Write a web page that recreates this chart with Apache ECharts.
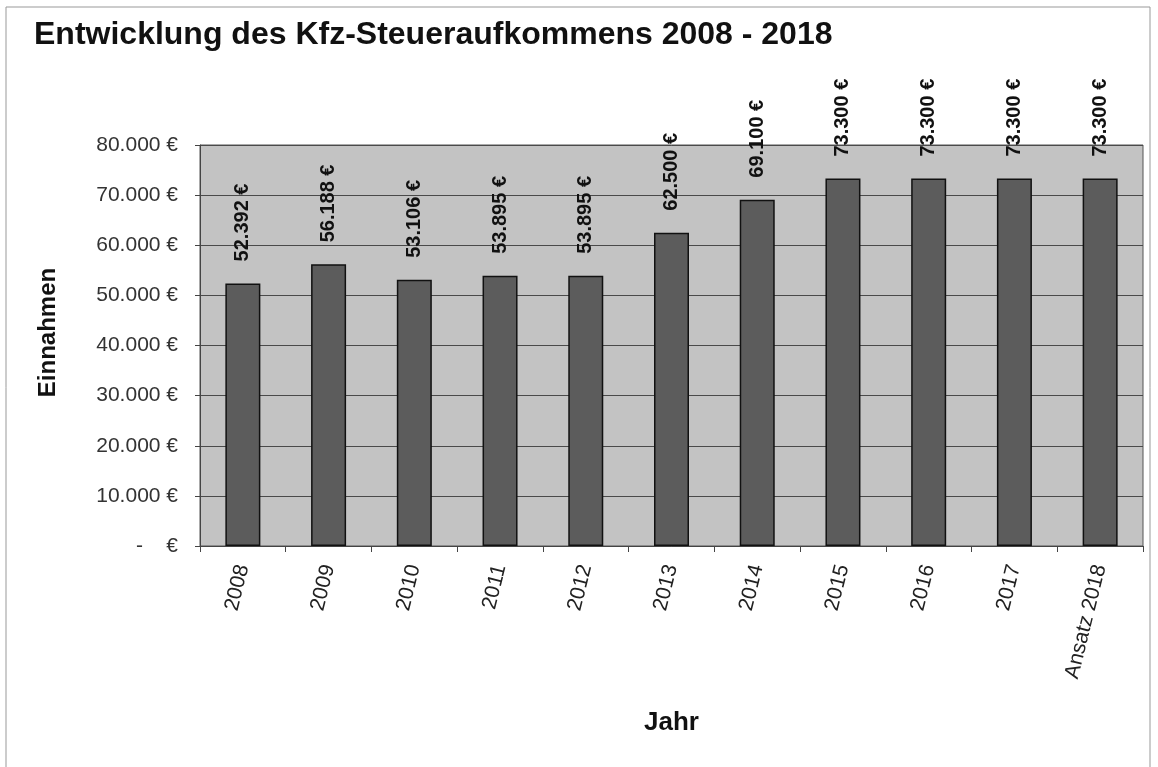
<!DOCTYPE html>
<html>
<head>
<meta charset="utf-8">
<title>Kfz-Steueraufkommen</title>
<script src="https://cdn.jsdelivr.net/npm/echarts@6/dist/echarts.min.js"></script>
<style>
html, body { margin: 0; padding: 0; background: #fff; }
#chart { width: 1158px; height: 767px; }
</style>
</head>
<body>
<div id="chart"></div>
<script>
// Jahre und Einnahmen
var jahre = ['2008', '2009', '2010', '2011', '2012', '2013', '2014', '2015', '2016', '2017', 'Ansatz 2018'];
var einnahmen = [52392, 56188, 53106, 53895, 53895, 62500, 69100, 73300, 73300, 73300, 73300];

function euro(v) {
	if (v === 0) return '-    €';
	return String(v).replace(/\B(?=(\d{3})+(?!\d))/g, '.') + ' €';
}

var chart = echarts.init(document.getElementById('chart'));
chart.setOption({
	backgroundColor: '#fff',
	animation: false,
	textStyle: { fontFamily: 'Liberation Sans, Arial, sans-serif' },
	title: {
		text: 'Entwicklung des Kfz-Steueraufkommens 2008 - 2018',
		left: 29, top: 14,
		textStyle: { fontSize: 32, fontWeight: 'bold', color: '#111' }
	},
	graphic: [{
		type: 'rect',
		shape: { x: 6, y: 7, width: 1144, height: 770 },
		style: { fill: 'none', stroke: '#999', lineWidth: 1 },
		silent: true
	}],
	grid: {
		left: 200, right: 15, top: 145, bottom: 221,
		show: true,
		backgroundColor: '#c3c3c3',
		borderColor: '#555', borderWidth: 1
	},
	xAxis: {
		type: 'category',
		data: jahre,
		name: 'Jahr',
		nameLocation: 'middle',
		nameGap: 164,
		nameTextStyle: { fontSize: 26, fontWeight: 'bold', color: '#111' },
		axisLine: { lineStyle: { color: '#444' } },
		axisTick: { show: true, length: 6, alignWithLabel: false, lineStyle: { color: '#444' } },
		axisLabel: {
			rotate: 76, fontSize: 21, color: '#222',
			margin: 19, interval: 0
		}
	},
	yAxis: {
		type: 'value',
		min: 0, max: 80000, interval: 10000,
		name: 'Einnahmen',
		nameLocation: 'middle',
		nameGap: 140,
		nameTextStyle: { fontSize: 24, fontWeight: 'bold', color: '#111', padding: [0, 0, 0, 26] },
		axisLine: { show: true, lineStyle: { color: '#444' } },
		axisTick: { show: true, length: 5, lineStyle: { color: '#444' } },
		axisLabel: { fontSize: 21, color: '#333', margin: 22, formatter: euro },
		splitLine: { lineStyle: { color: '#4a4a4a', width: 1 } }
	},
	series: [{
		type: 'bar',
		data: einnahmen,
		barWidth: 35,
		itemStyle: { color: '#5c5c5c', borderColor: '#111', borderWidth: 1.5 },
		label: {
			show: true,
			position: 'top',
			rotate: 90,
			align: 'left',
			verticalAlign: 'middle',
			distance: 22,
			fontSize: 20,
			fontWeight: 'bold',
			color: '#111',
			formatter: function (p) { return euro(p.value); }
		}
	}]
});
</script>
</body>
</html>
